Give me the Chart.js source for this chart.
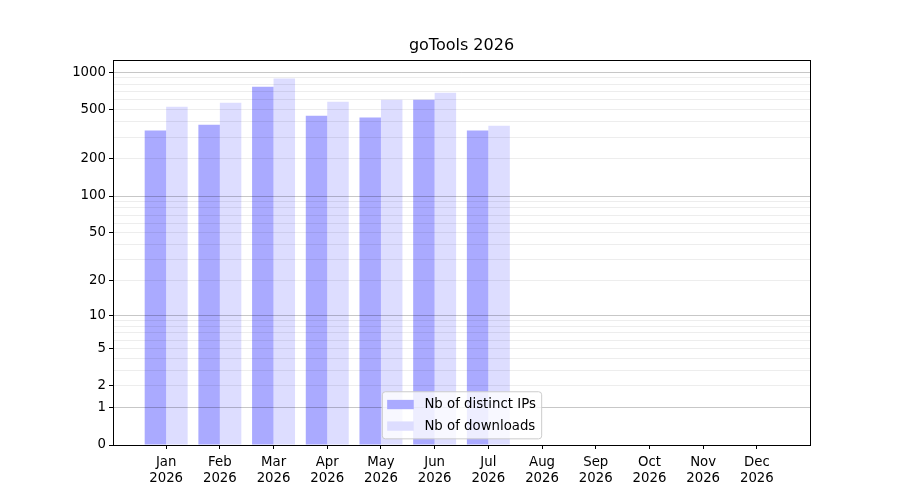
<!DOCTYPE html>
<html>
<head>
<meta charset="utf-8">
<script src="https://cdn.jsdelivr.net/npm/chart.js@4/dist/chart.umd.min.js"></script>
<style>
  html, body { margin: 0; padding: 0; background: #fff; }
  #wrap { width: 900px; height: 500px; }
</style>
</head>
<body>
<div id="wrap"><canvas id="chart"></canvas></div>
<script>
// data
const months = ["Jan", "Feb", "Mar", "Apr", "May", "Jun", "Jul", "Aug", "Sep", "Oct", "Nov", "Dec"];
const year = "2026";
const distinctIPs = [339, 378, 764, 447, 431, 601, 339];
const downloads = [528, 568, 891, 579, 601, 684, 371];
const yLabelTicks = [0, 1, 2, 5, 10, 20, 50, 100, 200, 500, 1000];
const yMajorGrid = [1, 10, 100, 1000];
const yMinorGrid = [2, 3, 4, 5, 6, 7, 8, 9, 20, 30, 40, 50, 60, 70, 80, 90,
                    200, 300, 400, 500, 600, 700, 800, 900];

// log10(1 + x) axis, like the reference
const tf = v => Math.log10(1 + Math.max(v, 0));

class Log1pScale extends Chart.LinearScale {
  configure() {
    super.configure();
    this._tMin = tf(this.min);
    this._tMax = tf(this.max);
  }
  buildTicks() {
    const all = [...new Set([...yLabelTicks, ...yMinorGrid])].sort((a, b) => a - b);
    return all.map(v => ({ value: v }));
  }
  getPixelForValue(v) {
    return this.getPixelForDecimal((tf(v) - this._tMin) / (this._tMax - this._tMin));
  }
  getValueForPixel(p) {
    const d = this.getDecimalForPixel(p);
    return Math.pow(10, this._tMin + d * (this._tMax - this._tMin)) - 1;
  }
}
Log1pScale.id = "log1p";
Log1pScale.defaults = {};
Chart.register(Log1pScale);

Chart.defaults.font.family = "'DejaVu Sans', sans-serif";
Chart.defaults.font.size = 13.3;
Chart.defaults.color = "#000";

// box around the plot + legend inside the lower centre
const framePlugin = {
  id: "frame",
  afterDraw(chart) {
    const { ctx, chartArea: a } = chart;
    ctx.save();
    ctx.strokeStyle = "#000";
    ctx.lineWidth = 1;
    ctx.strokeRect(Math.round(a.left) + 0.5, Math.round(a.top) + 0.5,
                   Math.round(a.right - a.left), Math.round(a.bottom - a.top));

    // legend
    const fs = 13.3;
    ctx.font = fs + "px 'DejaVu Sans', sans-serif";
    const items = chart.data.datasets.map(d => ({ label: d.label, color: d.backgroundColor }));
    const tw = Math.max(...items.map(it => ctx.measureText(it.label).width));
    const pad = 0.4 * fs, hl = 2 * fs, htp = 0.8 * fs, rowH = 14.9, sp = 0.5 * fs;
    const w = pad * 2 + hl + htp + tw;
    const h = pad * 2 + items.length * rowH + (items.length - 1) * sp;
    const x0 = (a.left + a.right) / 2 - w / 2;
    const y0 = a.bottom - 0.5 * fs - h;
    ctx.beginPath();
    ctx.roundRect(x0 + 0.5, y0 + 0.5, w, h, 3);
    ctx.fillStyle = "rgba(255,255,255,0.8)";
    ctx.fill();
    ctx.strokeStyle = "#cccccc";
    ctx.stroke();
    items.forEach((it, i) => {
      const cy = y0 + pad + rowH / 2 + i * (rowH + sp) + 0.5;
      ctx.fillStyle = it.color;
      ctx.fillRect(x0 + pad, cy - 0.35 * fs, hl, 0.7 * fs);
      ctx.fillStyle = "#000";
      ctx.textBaseline = "middle";
      ctx.fillText(it.label, x0 + pad + hl + htp, cy);
    });
    ctx.restore();
  }
};

new Chart(document.getElementById("chart"), {
  type: "bar",
  data: {
    datasets: [
      {
        label: "Nb of distinct IPs",
        data: distinctIPs.map((v, i) => ({ x: i, y: v })),
        backgroundColor: "#aaaaff",
        categoryPercentage: 0.8,
        barPercentage: 1.0,
      },
      {
        label: "Nb of downloads",
        data: downloads.map((v, i) => ({ x: i, y: v })),
        backgroundColor: "#ddddff",
        categoryPercentage: 0.8,
        barPercentage: 1.0,
      },
    ],
  },
  options: {
    responsive: true,
    maintainAspectRatio: false,
    animation: false,
    layout: { padding: { left: 0, right: 90, top: 0, bottom: 0 } },
    plugins: {
      legend: { display: false },
      tooltip: { enabled: false },
      title: {
        display: true,
        text: "goTools " + year,
        fullSize: false,
        font: { size: 16, weight: "normal" },
        color: "#000",
        padding: { top: 36, bottom: 5 },
      },
    },
    scales: {
      x: {
        type: "linear",
        min: -0.99,
        max: 11.99,
        offset: false,
        afterBuildTicks: s => { s.ticks = months.map((m, i) => ({ value: i })); },
        afterFit: s => { s.height = 55; },
        ticks: {
          autoSkip: false,
          maxRotation: 0,
          padding: 6,
          font: { lineHeight: 1.17 },
          callback: v => [months[Math.round(v)], year],
        },
        grid: { offset: false, drawOnChartArea: false, tickLength: 4, tickColor: "#000" },
        border: { color: "#000", width: 1 },
      },
      y: {
        type: "log1p",
        min: 0,
        max: 1251,
        afterFit: s => { s.width = 113; },
        ticks: {
          autoSkip: false,
          padding: 3,
          callback: v => (yLabelTicks.includes(v) ? String(v) : ""),
        },
        grid: {
          z: 1,
          tickLength: 4,
          color: c => {
            const v = c.tick ? c.tick.value : null;
            if (yMajorGrid.includes(v)) return "rgba(0,0,0,0.22)";
            if (yMinorGrid.includes(v)) return "rgba(0,0,0,0.07)";
            return "rgba(0,0,0,0)";
          },
          tickColor: c => (c.tick && yLabelTicks.includes(c.tick.value) ? "#000" : "rgba(0,0,0,0)"),
        },
        border: { display: false },
      },
    },
  },
  plugins: [framePlugin],
});
</script>
</body>
</html>
